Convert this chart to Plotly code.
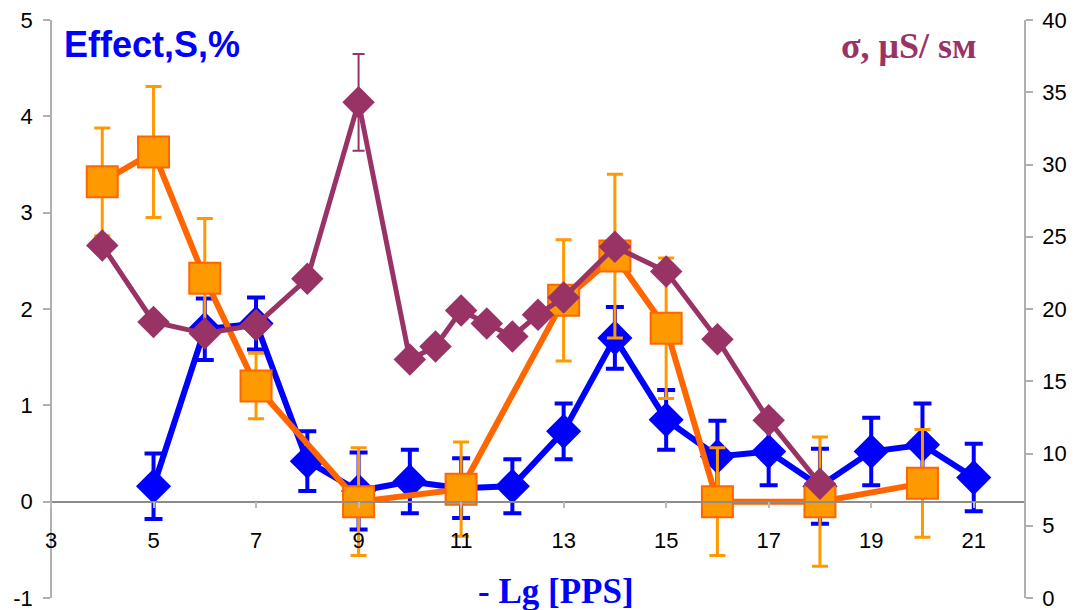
import plotly.graph_objects as go

# ---- data ----
x_effect = [5, 6, 7, 8, 9, 10, 11, 12, 13, 14, 15, 16, 17, 18, 19, 20, 21]
effect = [0.16, 1.79, 1.85, 0.42, 0.11, 0.21, 0.14, 0.16, 0.73, 1.70, 0.85, 0.47, 0.52, 0.16, 0.52, 0.59, 0.25]
effect_err = [0.34, 0.32, 0.27, 0.31, 0.40, 0.33, 0.31, 0.28, 0.29, 0.32, 0.31, 0.37, 0.35, 0.39, 0.35, 0.43, 0.35]

x_orange = [4, 5, 6, 7, 9, 11, 13, 14, 15, 16, 18, 20]
orange = [3.32, 3.63, 2.32, 1.20, 0.0, 0.13, 2.09, 2.55, 1.80, 0.0, 0.0, 0.19]
orange_err = [0.56, 0.68, 0.62, 0.34, 0.56, 0.49, 0.63, 0.85, 0.73, 0.56, 0.67, 0.56]

x_sigma = [4, 5, 6, 7, 8, 9, 10, 10.5, 11, 11.5, 12, 12.5, 13, 14, 15, 16, 17, 18]
sigma = [24.4, 19.1, 18.3, 18.9, 22.1, 34.3, 16.5, 17.4, 19.9, 19.0, 18.1, 19.6, 20.8, 24.3, 22.6, 17.9, 12.3, 7.9]
sigma_err = [0, 0, 0, 0, 0, 3.35, 0, 0, 0, 0, 0, 0, 0, 0, 0, 0, 0, 0]

x_ticks = [3, 5, 7, 9, 11, 13, 15, 17, 19, 21]
y_ticks = [-1, 0, 1, 2, 3, 4, 5]
y2_ticks = [0, 5, 10, 15, 20, 25, 30, 35, 40]

BLUE = "#0000FF"
ORANGE_LINE = "#FF6600"
ORANGE_FILL = "#FF9900"
PURPLE = "#993366"
TICKFONT = dict(family="Arial, Liberation Sans, sans-serif", size=22, color="black")

fig = go.Figure()

fig.add_trace(go.Scatter(
    x=x_effect, y=effect, mode="lines+markers",
    line=dict(color=BLUE, width=6),
    marker=dict(symbol="diamond", size=27, color=BLUE),
    error_y=dict(type="data", array=effect_err, color=BLUE, thickness=4, width=9),
    showlegend=False, yaxis="y", cliponaxis=False,
))

fig.add_trace(go.Scatter(
    x=x_orange, y=orange, mode="lines+markers",
    line=dict(color=ORANGE_LINE, width=6),
    marker=dict(symbol="square", size=31, color=ORANGE_FILL, line=dict(color=ORANGE_LINE, width=2)),
    error_y=dict(type="data", array=orange_err, color=ORANGE_FILL, thickness=3, width=8),
    showlegend=False, yaxis="y", cliponaxis=False,
))

fig.add_trace(go.Scatter(
    x=x_sigma, y=sigma, mode="lines+markers",
    line=dict(color=PURPLE, width=5),
    marker=dict(symbol="diamond", size=25, color=PURPLE),
    error_y=dict(type="data", array=sigma_err, color=PURPLE, thickness=2, width=6),
    showlegend=False, yaxis="y2", cliponaxis=False,
))

fig.update_layout(
    width=1077, height=610,
    margin=dict(l=51, r=52, t=20, b=12, autoexpand=False),
    paper_bgcolor="white", plot_bgcolor="white",
    xaxis=dict(
        range=[3, 22], tickvals=x_ticks, ticktext=[str(v) for v in x_ticks],
        anchor="free", position=1/6, automargin=False,
        showline=True, linecolor="#8c8c8c", linewidth=1.5,
        ticks="outside", ticklen=6, tickcolor="#bbbbbb", tickwidth=1.5,
        showgrid=False, zeroline=False, tickfont=TICKFONT,
        ticklabelstandoff=13,
    ),
    yaxis=dict(
        range=[-1, 5], tickvals=y_ticks, ticktext=[str(v) for v in y_ticks],
        showline=True, linecolor="#b0b0b0", linewidth=1.5,
        ticks="outside", ticklen=7, tickcolor="#b0b0b0", tickwidth=1.5,
        showgrid=False, zeroline=False, tickfont=TICKFONT, automargin=False,
        anchor="free", position=0, ticklabelstandoff=6, ticklabeloverflow="allow",
    ),
    yaxis2=dict(
        range=[0, 40], tickvals=y2_ticks, ticktext=[str(v) for v in y2_ticks],
        overlaying="y", side="right",
        showline=True, linecolor="#b0b0b0", linewidth=1.5,
        ticks="outside", ticklen=7, tickcolor="#b0b0b0", tickwidth=1.5,
        showgrid=False, zeroline=False, tickfont=TICKFONT, automargin=False,
        anchor="free", position=1, ticklabelstandoff=5, ticklabeloverflow="allow",
    ),
    annotations=[
        dict(text="<b>Effect,S,%</b>", xref="paper", yref="paper", x=0.011, y=0.957,
             xanchor="left", yanchor="middle", showarrow=False,
             font=dict(family="Arial, Liberation Sans, sans-serif", size=36, color=BLUE)),
        dict(text="<b>σ, μS/ sм</b>", xref="paper", yref="paper", x=0.953, y=0.955,
             xanchor="right", yanchor="middle", showarrow=False,
             font=dict(family="Times New Roman, Liberation Serif, serif", size=36, color=PURPLE)),
        dict(text="<b>- Lg [PPS]</b>", xref="paper", yref="paper", x=0.518, y=0.012,
             xanchor="center", yanchor="middle", showarrow=False,
             font=dict(family="Times New Roman, Liberation Serif, serif", size=35, color=BLUE)),
    ],
)

fig.write_html("out.html")
